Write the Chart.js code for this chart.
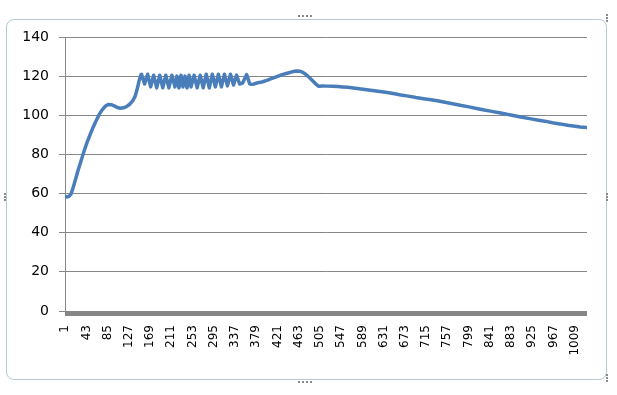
<!DOCTYPE html>
<html>
<head>
<meta charset="utf-8">
<script src="https://cdn.jsdelivr.net/npm/chart.js@4"></script>
<style>
    body { margin: 0; background: #fff; }
    #wrap { position: relative; width: 617px; height: 395px; }
    #frame {
        position: absolute; left: 6px; top: 19px; width: 599px; height: 359px;
        border: 1px solid #b7c9d1; border-radius: 8px;
    }
    .handle { position: absolute; border-top: 2px dotted #8a8a8a; width: 14px; height: 0; }
    .vhandle { position: absolute; border-left: 2px dotted #8a8a8a; width: 0; height: 8px; }
    canvas { position: absolute; left: 0; top: 0; }
</style>
</head>
<body>
<div id="wrap">
    <div id="frame"></div>
    <div class="handle" style="left:298px;top:15px"></div>
    <div class="handle" style="left:298px;top:381px"></div>
    <div class="vhandle" style="left:606px;top:14px"></div>
    <div class="vhandle" style="left:606px;top:193px"></div>
    <div class="vhandle" style="left:606px;top:374px"></div>
    <div class="vhandle" style="left:4px;top:193px"></div>
    <canvas id="chart" width="617" height="395"></canvas>
</div>
<script>
// sample index (category number) and reading at that index
const sampleIndex = [
    1, 4, 8, 12, 16, 20, 26, 32, 38, 44, 50, 56, 62, 68, 74, 80, 86, 92, 98, 104,
    110, 116, 122, 128, 134, 139, 143, 147, 151,
    152, 158, 164, 170, 176, 182, 188, 194, 200, 206, 212, 218, 222, 226, 230, 234,
    238, 242, 246, 250, 256, 262, 268, 274, 280, 286, 292, 298, 304, 310, 316, 322,
    328, 334, 340, 346, 352, 360, 366, 372, 380, 390, 400, 410, 420, 430, 440, 450,
    458, 466, 472, 478, 484, 490, 496, 502, 510, 520, 530, 540, 550, 560, 575, 590,
    605, 620, 635, 650, 665, 680, 695, 710, 725, 740, 755, 770, 785, 800, 815, 830,
    845, 860, 875, 890, 905, 920, 935, 950, 965, 980, 995, 1010, 1020, 1033
];
const sampleValue = [
    58.5, 58.2, 58.6, 59.5, 62.5, 66, 71.5, 76.5, 81.5, 86, 90, 93.8, 97.2, 100.3, 102.8, 104.6, 105.5, 105.4, 104.8, 104,
    103.6, 103.8, 104.4, 105.5, 107.2, 109.5, 113, 117.5, 120.8,
    121, 116, 121, 114.5, 120.5, 114, 120.5, 114, 120.5, 114, 120.5, 114.5, 120, 114, 120.5, 114.5,
    120, 114, 120.5, 114.5, 120.5, 114, 120.5, 114, 121, 114, 121, 114.5, 121, 114.5, 121, 115,
    121, 115.5, 120.5, 116, 116.5, 120.8, 116, 115.8, 116.5, 117, 117.8, 118.8, 119.8, 120.8, 121.5, 122.2,
    122.6, 122.5, 121.8, 120.7, 119.3, 117.8, 116.2, 114.8, 115, 114.9, 114.8, 114.7, 114.5, 114.3, 113.8, 113.3,
    112.8, 112.3, 111.8, 111.1, 110.4, 109.8, 109.1, 108.5, 107.9, 107.3, 106.5, 105.8, 105.0, 104.3, 103.5, 102.7,
    102, 101.3, 100.5, 99.8, 99, 98.3, 97.6, 97, 96.2, 95.6, 94.9, 94.4, 94.0, 93.8
];
const pointCount = 1033;
const tickLabels = [1, 43, 85, 127, 169, 211, 253, 295, 337, 379, 421, 463, 505,
    547, 589, 631, 673, 715, 757, 799, 841, 883, 925, 967, 1009];

const points = sampleIndex.map((x, i) => ({ x: x, y: sampleValue[i] }));

// Excel draws the category axis as a thick bar just under the zero line
const axisBar = {
    id: 'axisBar',
    afterDatasetsDraw(chart) {
        const { ctx, chartArea } = chart;
        ctx.save();
        ctx.fillStyle = '#868686';
        ctx.fillRect(chartArea.left, chartArea.bottom, chartArea.right - chartArea.left, 5);
        ctx.restore();
    }
};

new Chart(document.getElementById('chart'), {
    type: 'line',
    data: {
        datasets: [{
            data: points,
            borderColor: '#4a7ebb',
            borderWidth: 3.5,
            borderJoinStyle: 'round',
            borderCapStyle: 'round',
            pointRadius: 0,
            tension: 0,
            fill: false
        }]
    },
    options: {
        responsive: false,
        animation: false,
        layout: { padding: { left: 0, top: 37, right: 30, bottom: 0 } },
        plugins: { legend: { display: false }, tooltip: { enabled: false } },
        scales: {
            x: {
                type: 'linear',
                min: 0.5,
                max: pointCount + 0.5,
                afterBuildTicks: scale => {
                    scale.ticks = tickLabels.map(v => ({ value: v }));
                },
                afterFit: scale => { scale.height = 84; },
                grid: { display: false, drawTicks: false },
                border: { display: false },
                ticks: {
                    autoSkip: false,
                    minRotation: 90,
                    maxRotation: 90,
                    padding: 14,
                    color: '#000',
                    font: { family: 'DejaVu Sans', size: 12 },
                    callback: v => String(v)
                }
            },
            y: {
                min: 0,
                max: 140,
                afterFit: scale => { scale.width = 65; },
                grid: { color: '#868686', lineWidth: 1, tickLength: 6 },
                border: { color: '#868686', width: 1 },
                ticks: {
                    stepSize: 20,
                    padding: 10,
                    color: '#000',
                    font: { family: 'DejaVu Sans', size: 14 }
                }
            }
        }
    },
    plugins: [axisBar]
});
</script>
</body>
</html>
